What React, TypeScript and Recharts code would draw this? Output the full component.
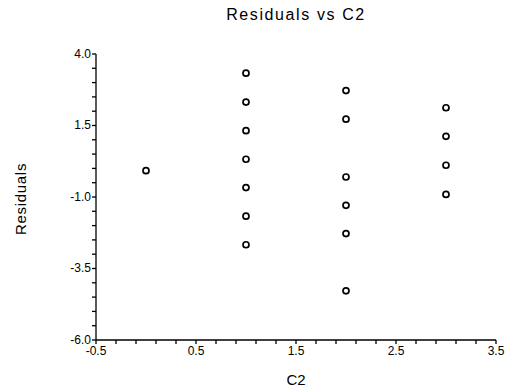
import { ScatterChart, Scatter, XAxis, YAxis, Label } from 'recharts';

const FONT = '"Liberation Sans", Arial, Helvetica, sans-serif';

const c2 = [0, 1, 1, 1, 1, 1, 1, 1, 2, 2, 2, 2, 2, 2, 3, 3, 3, 3];
const residuals = [
  -0.08,
  3.33, 2.32, 1.32, 0.32, -0.67, -1.67, -2.67,
  2.72, 1.72, -0.3, -1.29, -2.28, -4.28,
  2.12, 1.12, 0.11, -0.91,
];

// minor ticks every 0.2 on x, every 0.5 on y; only some get labels
const xTicks = [
  -0.5, -0.3, -0.1, 0.1, 0.3, 0.5, 0.7, 0.9, 1.1, 1.3, 1.5,
  1.7, 1.9, 2.1, 2.3, 2.5, 2.7, 2.9, 3.1, 3.3, 3.5,
];
const xTickLabels = [-0.5, 0.5, 1.5, 2.5, 3.5];
const yTicks = [
  -6, -5.5, -5, -4.5, -4, -3.5, -3, -2.5, -2, -1.5, -1,
  -0.5, 0, 0.5, 1, 1.5, 2, 2.5, 3, 3.5, 4,
];
const yTickLabels = [-6, -3.5, -1, 1.5, 4];

const points = c2.map((x, i) => ({ x, y: residuals[i] }));

const isLabelled = (list: number[], v: number) => list.some((t) => Math.abs(t - v) < 1e-6);

function XTick({ x, y, payload }: any) {
  if (!isLabelled(xTickLabels, payload.value)) return null;
  return (
    <text x={x} y={y} dy="0.71em" textAnchor="middle" fill="#000" fontSize={12} fontFamily={FONT}>
      {payload.value.toFixed(1)}
    </text>
  );
}

function YTick({ x, y, payload }: any) {
  if (!isLabelled(yTickLabels, payload.value)) return null;
  return (
    <text x={x} y={y} dy="0.3em" textAnchor="end" fill="#000" fontSize={12} fontFamily={FONT}>
      {payload.value.toFixed(1)}
    </text>
  );
}

function OpenCircle({ cx, cy }: any) {
  return <circle cx={cx} cy={cy} r={3} fill="none" stroke="#000" strokeWidth={1.7} />;
}

export default function App() {
  return (
    <div style={{ position: 'absolute', left: 0, top: 0, width: 513, height: 391, background: '#fff' }}>
      <div
        style={{
          position: 'absolute',
          left: 96,
          width: 400,
          top: 6,
          textAlign: 'center',
          fontFamily: FONT,
          fontSize: 16,
          letterSpacing: 1.6,
          color: '#000',
        }}
      >
        Residuals vs C2
      </div>
      <ScatterChart width={513} height={391} margin={{ top: 54, right: 17, bottom: 21, left: 0 }}>
        <XAxis
          type="number"
          dataKey="x"
          domain={[-0.5, 3.5]}
          ticks={xTicks}
          interval={0}
          allowDataOverflow
          height={30}
          stroke="#000"
          strokeWidth={1.3}
          tickSize={4}
          tickMargin={2}
          tick={<XTick />}
        >
          <Label
            content={() => (
              <text x={296} y={385} textAnchor="middle" fill="#000" fontSize={15} fontFamily={FONT}>
                C2
              </text>
            )}
          />
        </XAxis>
        <YAxis
          type="number"
          dataKey="y"
          domain={[-6, 4]}
          ticks={yTicks}
          interval={0}
          allowDataOverflow
          width={96}
          stroke="#000"
          strokeWidth={1.3}
          tickSize={4}
          tickMargin={1}
          tick={<YTick />}
        >
          <Label
            content={() => (
              <text
                x={26}
                y={199}
                transform="rotate(-90 26 199)"
                textAnchor="middle"
                fill="#000"
                fontSize={15}
                letterSpacing={0.7}
                fontFamily={FONT}
              >
                Residuals
              </text>
            )}
          />
        </YAxis>
        <Scatter data={points} shape={<OpenCircle />} isAnimationActive={false} />
      </ScatterChart>
    </div>
  );
}
